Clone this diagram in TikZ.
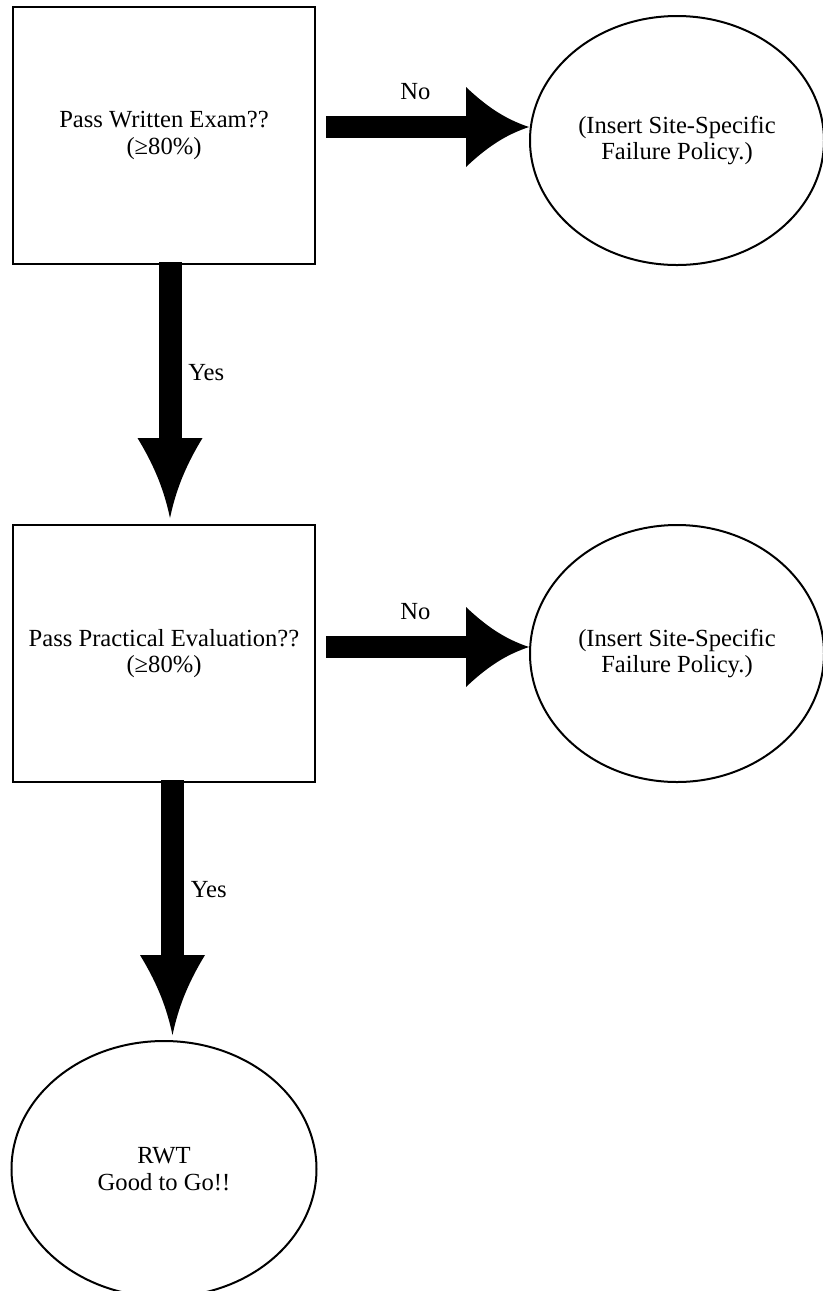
\documentclass[tikz,border=0pt]{standalone}
\usepackage{fontspec}
\setmainfont{Liberation Serif}
\usepackage{tikz}
\usetikzlibrary{shapes.geometric,arrows.meta,positioning,calc}

% flared arrow head with concave sides
\pgfdeclarearrow{
  name = Flare,
  parameters = {\the\pgfarrowlength,\the\pgfarrowwidth},
  setup code = {
    \pgfarrowssettipend{0pt}
    \pgfarrowssetlineend{-0.95\pgfarrowlength}
    \pgfarrowssetbackend{-\pgfarrowlength}
    \pgfarrowssetvisualbackend{-\pgfarrowlength}
    \pgfarrowsupperhullpoint{-\pgfarrowlength}{.5\pgfarrowwidth}
    \pgfarrowshullpoint{0pt}{0pt}
    \pgfarrowssavethe\pgfarrowlength
    \pgfarrowssavethe\pgfarrowwidth
  },
  drawing code = {
    \pgfpathmoveto{\pgfpointorigin}
    \pgfpathcurveto{\pgfpoint{-.3\pgfarrowlength}{.08\pgfarrowwidth}}{\pgfpoint{-.6\pgfarrowlength}{.2\pgfarrowwidth}}{\pgfpoint{-\pgfarrowlength}{.5\pgfarrowwidth}}
    \pgfpathlineto{\pgfpoint{-\pgfarrowlength}{-.5\pgfarrowwidth}}
    \pgfpathcurveto{\pgfpoint{-.6\pgfarrowlength}{-.2\pgfarrowwidth}}{\pgfpoint{-.3\pgfarrowlength}{-.08\pgfarrowwidth}}{\pgfpointorigin}
    \pgfpathclose
    \pgfusepathqfill
  },
  defaults = {length=1.26cm, width=1.6cm}
}

\begin{document}
\begin{tikzpicture}[
    font=\fontsize{14pt}{15pt}\selectfont,
    question/.style={rectangle, draw, line width=0.04cm, minimum width=6.04cm, minimum height=5.14cm, align=center},
    outcome/.style={ellipse, draw, line width=0.04cm, align=center, inner sep=0pt},
    fat/.style={line width=0.44cm, -{Flare[length=1.26cm, width=1.6cm]}},
    fatdown/.style={line width=0.46cm, -{Flare[length=1.6cm, width=1.3cm]}}
]
\useasboundingbox (0,0) rectangle (16.44,-25.82);

% Top row: written exam
\node[question] (written) at (3.28,-2.71) {Pass Written Exam??\\(≥80\%)};
\node[outcome, right=4.26cm of written, yshift=-0.1cm, minimum width=5.88cm, minimum height=4.98cm] (fail1) {(Insert Site-Specific\\Failure Policy.)};

% Middle row: practical evaluation
\node[question, below=5.18cm of written] (practical) {Pass Practical Evaluation??\\(≥80\%)};
\node[outcome, right=4.26cm of practical, minimum width=5.88cm, minimum height=5.14cm] (fail2) {(Insert Site-Specific\\Failure Policy.)};

% Bottom: result
\node[outcome, below=5.14cm of practical, minimum width=6.1cm, minimum height=5.12cm] (rwt) {RWT\\Good to Go!!};

% Arrows - fail branches
\draw[fat] ($(written.east)+(0.2,0.17)$) -- node[above=0.2cm, pos=0.44] (no1) {No} ($(written.east -| fail1.west)+(0,0.17)$);
\draw[fat] ($(practical.east)+(0.2,0.13)$) -- node[above=0.2cm, pos=0.44] (no2) {No} ($(practical.east -| fail2.west)+(0,0.13)$);

% Arrows - pass branches
\draw[fatdown] ($(written.south)+(0.12,0.06)$) -- node[right=0.02cm, pos=0.43] (yes1) {Yes} ($(practical.north)+(0.12,0.12)$);
\draw[fatdown] ($(practical.south)+(0.17,0.06)$) -- node[right=0.02cm, pos=0.43] (yes2) {Yes} ($(practical.south |- rwt.north)+(0.17,0.1)$);

\end{tikzpicture}
\end{document}
